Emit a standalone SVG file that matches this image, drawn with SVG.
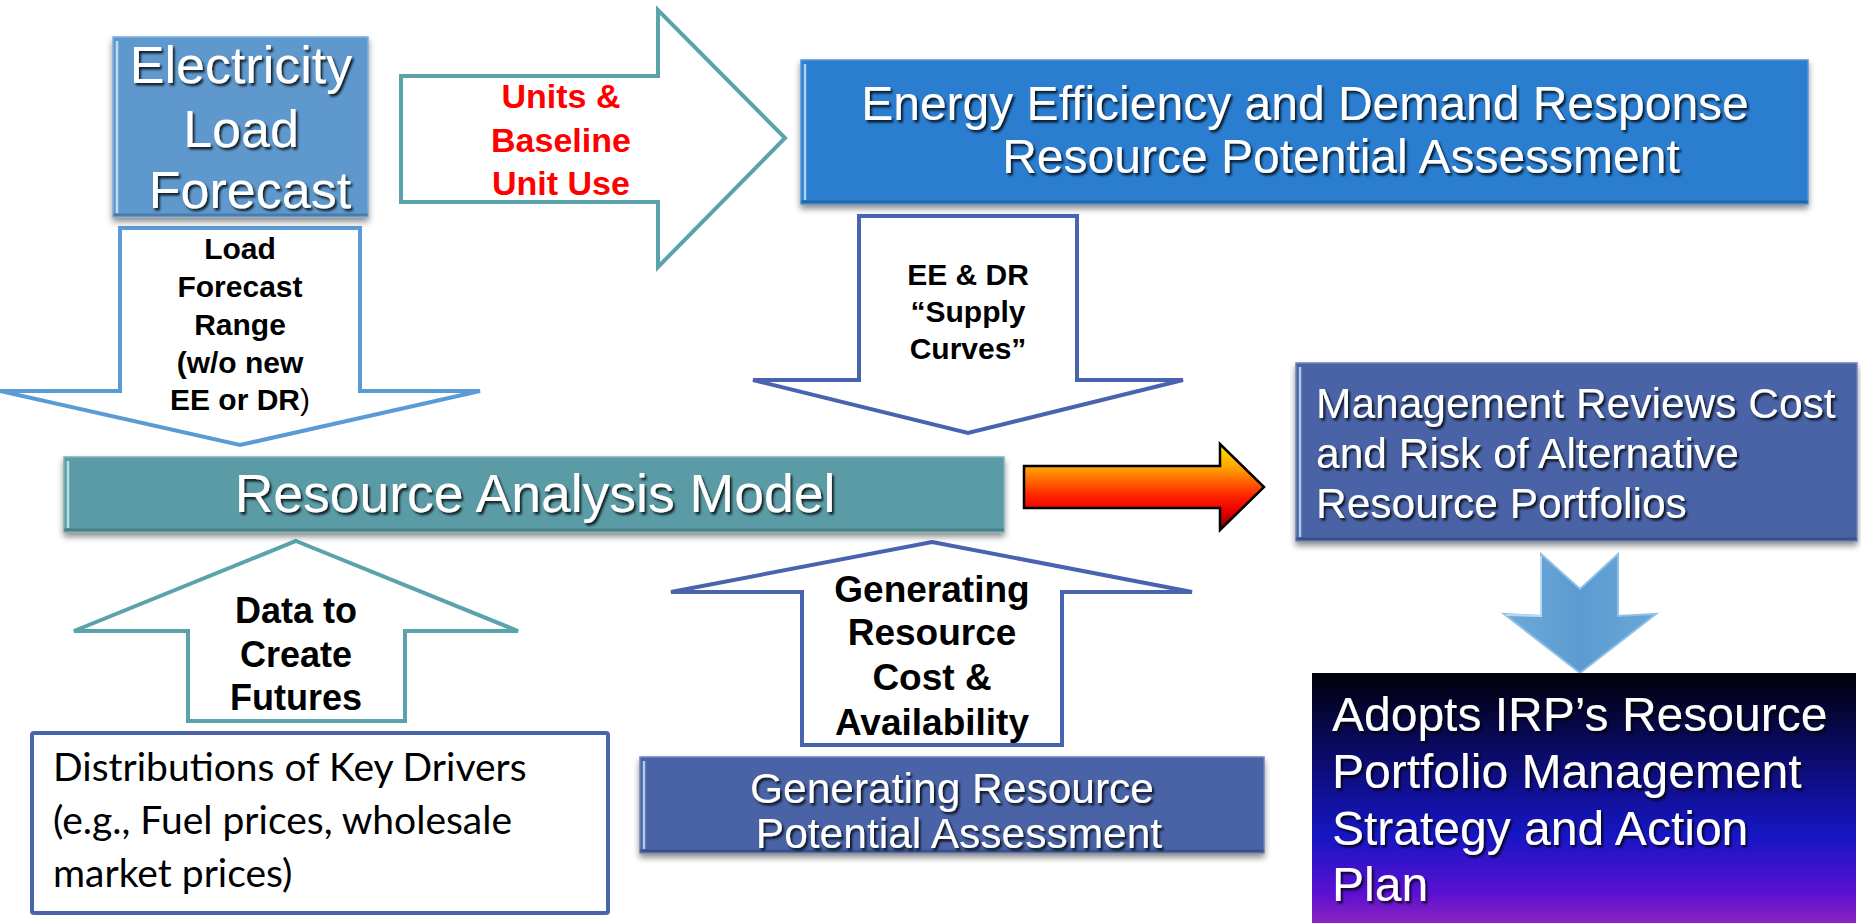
<svg xmlns="http://www.w3.org/2000/svg" width="1861" height="923" viewBox="0 0 1861 923">
  <defs>
    <filter id="boxShadow" x="-5%" y="-10%" width="110%" height="130%">
      <feDropShadow dx="0" dy="4" stdDeviation="3" flood-color="#000" flood-opacity="0.45"/>
    </filter>
    <filter id="textShadow" x="-5%" y="-20%" width="110%" height="150%">
      <feDropShadow dx="2" dy="2.5" stdDeviation="1" flood-color="#000" flood-opacity="0.8"/>
    </filter>
    <linearGradient id="hotArrow" x1="0" y1="444" x2="0" y2="530" gradientUnits="userSpaceOnUse">
      <stop offset="0" stop-color="#FFE800"/>
      <stop offset="0.28" stop-color="#FFA000"/>
      <stop offset="0.6" stop-color="#FF2400"/>
      <stop offset="0.78" stop-color="#E80000"/>
      <stop offset="1" stop-color="#7A0000"/>
    </linearGradient>
    <linearGradient id="nightSky" x1="0" y1="0" x2="0" y2="1">
      <stop offset="0" stop-color="#000008"/>
      <stop offset="0.3" stop-color="#0A0A62"/>
      <stop offset="0.65" stop-color="#1616C4"/>
      <stop offset="0.88" stop-color="#5A10D2"/>
      <stop offset="1" stop-color="#8C24C0"/>
    </linearGradient>
    <linearGradient id="chevronFill" x1="0" y1="0" x2="1" y2="0">
      <stop offset="0" stop-color="#6EAAD9"/>
      <stop offset="0.5" stop-color="#5C9BD0"/>
      <stop offset="1" stop-color="#6AA7D8"/>
    </linearGradient>
    <style>
      .box { stroke-width: 1.5; }
      .hl { fill: none; stroke: #E6F6FF; stroke-opacity: 0.7; stroke-width: 2.5; }
      .dk { fill: none; stroke: #000; stroke-opacity: 0.18; stroke-width: 3; }
      .wt { font-family: "Liberation Sans", Arial, sans-serif; fill: #ffffff; }
      .lbl { font-family: "Liberation Sans", Arial, sans-serif; font-weight: bold; fill: #000; text-anchor: middle; }
      .red { font-family: "Liberation Sans", Arial, sans-serif; font-weight: bold; fill: #FF0000; text-anchor: middle; }
      .flow { fill: #ffffff; stroke-width: 4; stroke-linejoin: miter; }
      .teal { stroke: #5AA3AC; }
      .sky { stroke: #5B9BD5; }
      .indigo { stroke: #4A63AE; }
    </style>
  </defs>

  <rect width="1861" height="923" fill="#ffffff"/>

  <!-- connectors: block arrows between the stages -->
  <g id="connectors">
    <g id="arrow-units">
      <polygon class="flow teal" points="401,76 658,76 658,10 785,138 658,267 658,202 401,202"/>
      <text class="red" font-size="34"><tspan x="561" y="108">Units &amp;</tspan><tspan x="561" y="152">Baseline</tspan><tspan x="561" y="195">Unit Use</tspan></text>
    </g>
    <g id="arrow-load-range">
      <polygon class="flow sky" points="120,228 360,228 360,391 480,391 240,445 0,391 120,391"/>
      <text class="lbl" font-size="30"><tspan x="240" y="259">Load</tspan><tspan x="240" y="297">Forecast</tspan><tspan x="240" y="335">Range</tspan><tspan x="240" y="373">(w/o new</tspan><tspan x="240" y="410">EE or DR<tspan font-weight="normal">)</tspan></tspan></text>
    </g>
    <g id="arrow-supply-curves">
      <polygon class="flow indigo" points="859,216 1077,216 1077,380 1183,380 968,433 753,380 859,380"/>
      <text class="lbl" font-size="30"><tspan x="968" y="285">EE &amp; DR</tspan><tspan x="968" y="322">“Supply</tspan><tspan x="968" y="359">Curves”</tspan></text>
    </g>
    <g id="arrow-futures">
      <polygon class="flow teal" points="296,541 518,631 405,631 405,721 188,721 188,631 74,631"/>
      <text class="lbl" font-size="36"><tspan x="296" y="623">Data to</tspan><tspan x="296" y="667">Create</tspan><tspan x="296" y="710">Futures</tspan></text>
    </g>
    <g id="arrow-generating">
      <polygon class="flow indigo" points="932,542 1192,592 1062,592 1062,745 802,745 802,592 671,592"/>
      <text class="lbl" font-size="37"><tspan x="932" y="602">Generating</tspan><tspan x="932" y="645">Resource</tspan><tspan x="932" y="690">Cost &amp;</tspan><tspan x="932" y="735">Availability</tspan></text>
    </g>
    <g id="arrow-portfolios">
      <polygon points="1024,466 1220,466 1220,444 1264,487 1220,530 1220,508 1024,508" fill="url(#hotArrow)" stroke="#000" stroke-width="2.5"/>
    </g>
    <g id="arrow-adopt">
      <polygon points="1541,554 1580,589 1618,554 1618,616 1656,614 1580,673 1504,614 1541,616" fill="url(#chevronFill)" stroke="#8FC0E8" stroke-width="2" stroke-linejoin="miter"/>
      <polyline points="1541,556 1541,616 1506,615" fill="none" stroke="#B9DAF4" stroke-width="2"/>
    </g>
  </g>

  <!-- stage boxes -->
  <g id="load-forecast">
    <rect x="113" y="37" width="255" height="180" fill="#5F98CC" stroke="#7FAEDB" class="box" filter="url(#boxShadow)"/>
    <line class="hl" x1="117" y1="41" x2="117" y2="213"/>
    <line class="dk" x1="113" y1="215" x2="368" y2="215"/>
    <text class="wt" font-size="52" text-anchor="middle" filter="url(#textShadow)"><tspan x="241" y="83">Electricity</tspan><tspan x="241" y="147">Load</tspan><tspan x="250" y="208">Forecast</tspan></text>
  </g>

  <g id="ee-dr-assessment">
    <rect x="801" y="60" width="1007" height="144" fill="#2B7DCF" stroke="#4F95DA" class="box" filter="url(#boxShadow)"/>
    <line class="hl" x1="805" y1="64" x2="805" y2="200"/>
    <line class="dk" x1="801" y1="202" x2="1808" y2="202"/>
    <text class="wt" font-size="48" text-anchor="middle" filter="url(#textShadow)"><tspan x="1305" y="120">Energy Efficiency and Demand Response</tspan><tspan x="1341" y="173">Resource Potential Assessment</tspan></text>
  </g>

  <g id="resource-analysis-model">
    <rect x="64" y="457" width="940" height="75" fill="#5A9BA5" stroke="#7DB1B9" class="box" filter="url(#boxShadow)"/>
    <line class="hl" x1="68" y1="461" x2="68" y2="528"/>
    <line class="dk" x1="64" y1="530" x2="1004" y2="530"/>
    <text class="wt" font-size="53.5" text-anchor="middle" filter="url(#textShadow)" x="535" y="512">Resource Analysis Model</text>
  </g>

  <g id="management-review">
    <rect x="1296" y="363" width="561" height="178" fill="#4A64A6" stroke="#6E84BA" class="box" filter="url(#boxShadow)"/>
    <line class="hl" x1="1300" y1="367" x2="1300" y2="537"/>
    <line class="dk" x1="1296" y1="539" x2="1857" y2="539"/>
    <text class="wt" font-size="42.5" filter="url(#textShadow)"><tspan x="1316" y="418">Management Reviews Cost</tspan><tspan x="1316" y="468">and Risk of Alternative</tspan><tspan x="1316" y="518">Resource Portfolios</tspan></text>
  </g>

  <g id="adopt-plan">
    <rect x="1312" y="673" width="544" height="250" fill="url(#nightSky)"/>
    <text class="wt" font-size="48" filter="url(#textShadow)"><tspan x="1332" y="731">Adopts IRP’s Resource</tspan><tspan x="1332" y="788">Portfolio Management</tspan><tspan x="1332" y="845">Strategy and Action</tspan><tspan x="1332" y="901">Plan</tspan></text>
  </g>

  <g id="generating-assessment">
    <rect x="640" y="757" width="624" height="96" fill="#4A64A6" stroke="#6E84BA" class="box" filter="url(#boxShadow)"/>
    <line class="hl" x1="644" y1="761" x2="644" y2="849"/>
    <line class="dk" x1="640" y1="851" x2="1264" y2="851"/>
    <text class="wt" font-size="42.5" text-anchor="middle" filter="url(#textShadow)"><tspan x="952" y="803">Generating Resource</tspan><tspan x="959" y="848">Potential Assessment</tspan></text>
  </g>

  <g id="key-drivers">
    <rect x="32" y="733" width="576" height="180" rx="2" fill="#ffffff" stroke="#4A63AE" stroke-width="4"/>
    <text font-family="Lato, Carlito, Calibri, sans-serif" font-size="39" fill="#000"><tspan x="53" y="781">Distributions of Key Drivers</tspan><tspan x="53" y="834">(e.g., Fuel prices, wholesale</tspan><tspan x="53" y="887">market prices)</tspan></text>
  </g>
</svg>
